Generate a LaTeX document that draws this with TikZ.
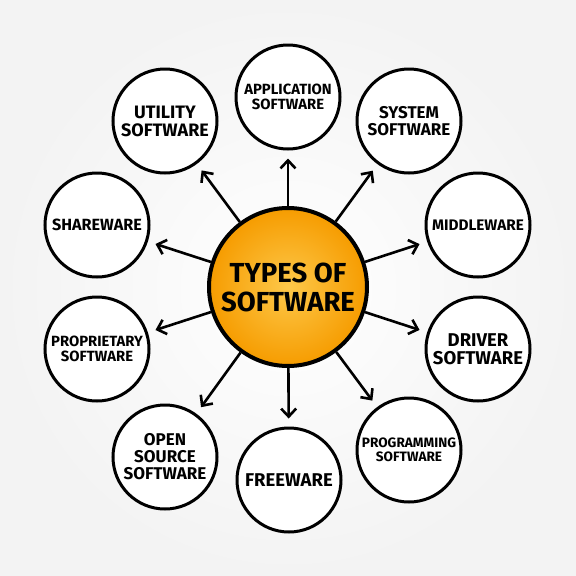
\documentclass[tikz,border=0pt]{standalone}
\usepackage{fontspec}
\setmainfont{Fira Sans}
\usetikzlibrary{arrows.meta}

\definecolor{hubin}{RGB}{253,200,74}
\definecolor{hubout}{RGB}{246,156,0}
\definecolor{paper}{RGB}{243,243,243}

\tikzset{
	leaf/.style={circle, draw=black, line width=3pt, fill=white, minimum size=104pt,
		inner sep=0pt, align=center, font=\bfseries\fontsize{#1pt}{#1pt}\selectfont},
	leaf/.default=14,
	hub/.style={circle, draw=black, line width=4pt, inner color=hubin, outer color=hubout,
		minimum size=158pt, inner sep=0pt, align=center, font=\bfseries\fontsize{27.5}{29}\selectfont},
	spoke/.style={line width=2.6pt, -{Straight Barb[length=8pt,width=15pt,line width=2.6pt]},
		shorten >=8pt}
}

\begin{document}
\begin{tikzpicture}[x=1pt,y=-1pt]
	% paper
	\shade[inner color=white, outer color=paper] (0,0) rectangle (576,576);
	\useasboundingbox (0,0) rectangle (576,576);

	\node[hub] (types) at (288,287) {TYPES OF\\SOFTWARE};

	\node[leaf=14.8] (app)   at (288,97)  {APPLICATION\\SOFTWARE};
	\node[leaf=18]   (util)  at (165,121) {UTILITY\\SOFTWARE};
	\node[leaf=17]   (sys)   at (409,121) {SYSTEM\\SOFTWARE};
	\node[leaf=16.2] (share) at (97,225)  {SHAREWARE};
	\node[leaf=15.3] (mid)   at (478,225) {MIDDLEWARE};
	\node[leaf=14.8] (prop)  at (97,349)  {PROPRIETARY\\SOFTWARE};
	\node[leaf=18.5] (drv)   at (478,349) {DRIVER\\SOFTWARE};
	\node[leaf=17]   (open)  at (165,457) {OPEN\\SOURCE\\SOFTWARE};
	\node[leaf=18.5] (free)  at (289,480) {FREEWARE};
	\node[leaf=13.6] (prog)  at (409,450) {PROGRAMMING\\SOFTWARE};

	\foreach \t in {app,util,sys,share,mid,prop,drv,open,free,prog}
		\draw[spoke] (types) -- (\t);
\end{tikzpicture}
\end{document}
